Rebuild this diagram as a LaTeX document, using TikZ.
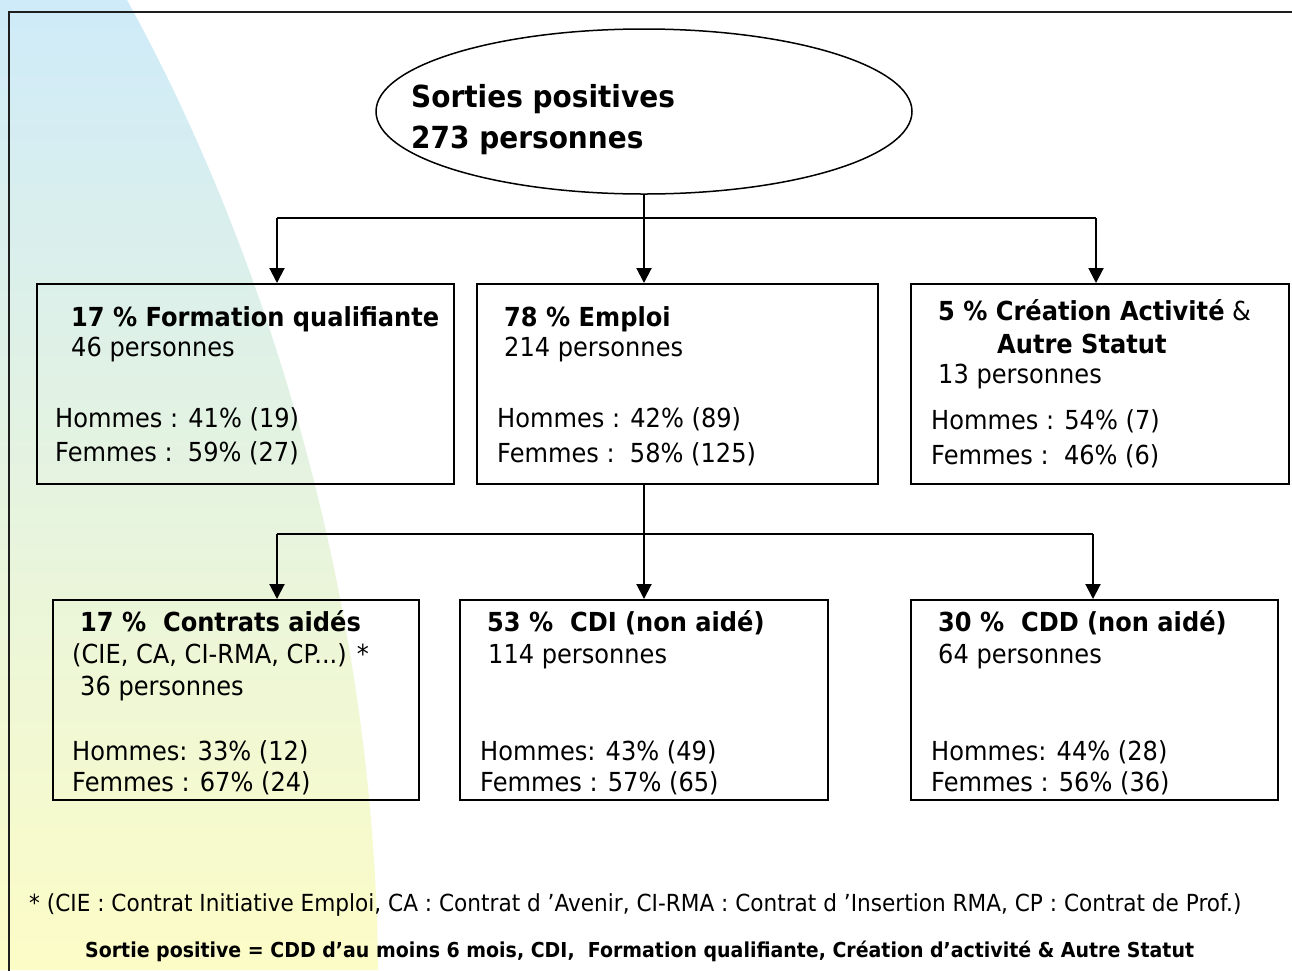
\documentclass[tikz,border=0pt]{standalone}
\usepackage{fontspec}
\setmainfont{DejaVu Sans}[FakeStretch=0.92]
\usetikzlibrary{arrows.meta,shapes.geometric}
\definecolor{bgblue}{RGB}{207,235,249}
\definecolor{bggreen}{RGB}{227,243,230}
\definecolor{bgyellow}{RGB}{252,252,198}
\definecolor{framecol}{RGB}{30,30,30}
\tikzset{
  box/.style={draw=black, line width=2pt, rectangle, inner sep=0pt, minimum height=200pt},
  arr/.style={-{Triangle[width=15pt,length=15pt]}, line width=2pt},
  conn/.style={line width=2pt},
  txt/.style={anchor=base west, inner sep=0pt, font=\fontsize{26.2}{30}\selectfont},
  txtb/.style={txt, font=\fontsize{26.2}{30}\selectfont\bfseries},
  ttl/.style={anchor=base west, inner sep=0pt, font=\fontsize{30.4}{34}\selectfont\bfseries},
  foot/.style={anchor=base west, inner sep=0pt, font=\fontsize{23.5}{27}\selectfont},
  footb/.style={anchor=base west, inner sep=0pt, font=\fontsize{20.6}{24}\selectfont\bfseries}
}
\begin{document}
\begin{tikzpicture}[x=1pt,y=-1pt]
\useasboundingbox (0,0) rectangle (1292,970);
\fill[white] (0,0) rectangle (1292,970);
% background wedge
\shade[top color=bgblue, middle color=bggreen, bottom color=bgyellow]
  (0,0) -- (127,0) .. controls (265,250) and (375,600) .. (378,970) -- (0,970) -- cycle;
% frame
\draw[framecol, line width=2.2pt] (9,972) -- (9,12) -- (1294,12);

% ellipse
\node[draw, ellipse, line width=1.5pt, minimum width=536pt, minimum height=165pt, inner sep=0pt] (ell) at (644,111.5) {};
\node[ttl] (t1) at (411,107.8) {Sorties positives};
\node[ttl] (t2) at (411,148.5) {273 personnes};

% row 1 boxes
\node[box, minimum width=417pt] (A) at (245.5,384) {};
\node[box, minimum width=401pt] (B) at (677.5,384) {};
\node[box, minimum width=378pt] (C) at (1100,384) {};

% row 2 boxes
\node[box, minimum width=366pt] (D) at (236,700) {};
\node[box, minimum width=368pt] (E) at (644,700) {};
\node[box, minimum width=367pt] (F) at (1094.5,700) {};

% connectors level 1
\coordinate (j1) at (644,218);
\coordinate (a1) at (277,218);
\coordinate (c1) at (1096,218);
\draw[conn] (a1) -- (c1);
\draw[arr] (ell.south) -- (B.north -| ell.south);
\draw[arr] (a1) -- (a1 |- A.north);
\draw[arr] (c1) -- (c1 |- C.north);

% connectors level 2
\coordinate (j2) at (644,534);
\coordinate (d2) at (277,534);
\coordinate (f2) at (1093,534);
\draw[conn] (d2) -- (f2);
\draw[arr] (B.south -| j2) -- (E.north -| j2);
\draw[arr] (d2) -- (d2 |- D.north);
\draw[arr] (f2) -- (f2 |- F.north);

% box A texts
\node[txtb] (A1) at (71,326) {17 \% Formation qualifiante};
\node[txt] (A2) at (71,356.5) {46 personnes};
\node[txt] (A3) at (55,427.5) {Hommes : 41\% (19)};
\node[txt] (A4) at (55,461.5) {Femmes :\ \ 59\% (27)};

% box B texts
\node[txtb] (B1) at (504,326) {78 \% Emploi};
\node[txt] (B2) at (504,356.5) {214 personnes};
\node[txt] (B3) at (497,427) {Hommes : 42\% (89)};
\node[txt] (B4) at (497,462) {Femmes :\ \ 58\% (125)};

% box C texts
\node[txt] (C1) at (938,320.5) {{\bfseries 5 \% Création Activité} \&};
\node[txtb] (C2) at (997,353.5) {Autre Statut};
\node[txt] (C3) at (938,383.5) {13 personnes};
\node[txt] (C4) at (931,429.5) {Hommes : 54\% (7)};
\node[txt] (C5) at (931,464.5) {Femmes :\ \ 46\% (6)};

% box D texts
\node[txtb] (D1) at (80,631.5) {17 \%\ \ Contrats aidés};
\node[txt] (D2) at (72,663.5) {(CIE, CA, CI-RMA, CP...) *};
\node[txt] (D3) at (80,695.5) {36 personnes};
\node[txt] (D4) at (72,760.5) {Hommes: 33\% (12)};
\node[txt] (D5) at (72,791.5) {Femmes : 67\% (24)};

% box E texts
\node[txtb] (E1) at (487,631.5) {53 \%\ \ CDI (non aidé)};
\node[txt] (E2) at (488,663.5) {114 personnes};
\node[txt] (E3) at (480,760.5) {Hommes: 43\% (49)};
\node[txt] (E4) at (480,791.5) {Femmes : 57\% (65)};

% box F texts
\node[txtb] (F1) at (938,631.5) {30 \%\ \ CDD (non aidé)};
\node[txt] (F2) at (938,663.5) {64 personnes};
\node[txt] (F3) at (931,760.5) {Hommes: 44\% (28)};
\node[txt] (F4) at (931,791.5) {Femmes : 56\% (36)};

% footnotes
\node[foot] (n1) at (29,911.6) {* (CIE : Contrat Initiative Emploi, CA : Contrat d ’Avenir, CI-RMA : Contrat d ’Insertion RMA, CP : Contrat de Prof.)};
\node[footb] (n2) at (85,957.5) {Sortie positive = CDD d’au moins 6 mois, CDI,\ \ Formation qualifiante, Création d’activité \& Autre Statut};
\end{tikzpicture}
\end{document}
